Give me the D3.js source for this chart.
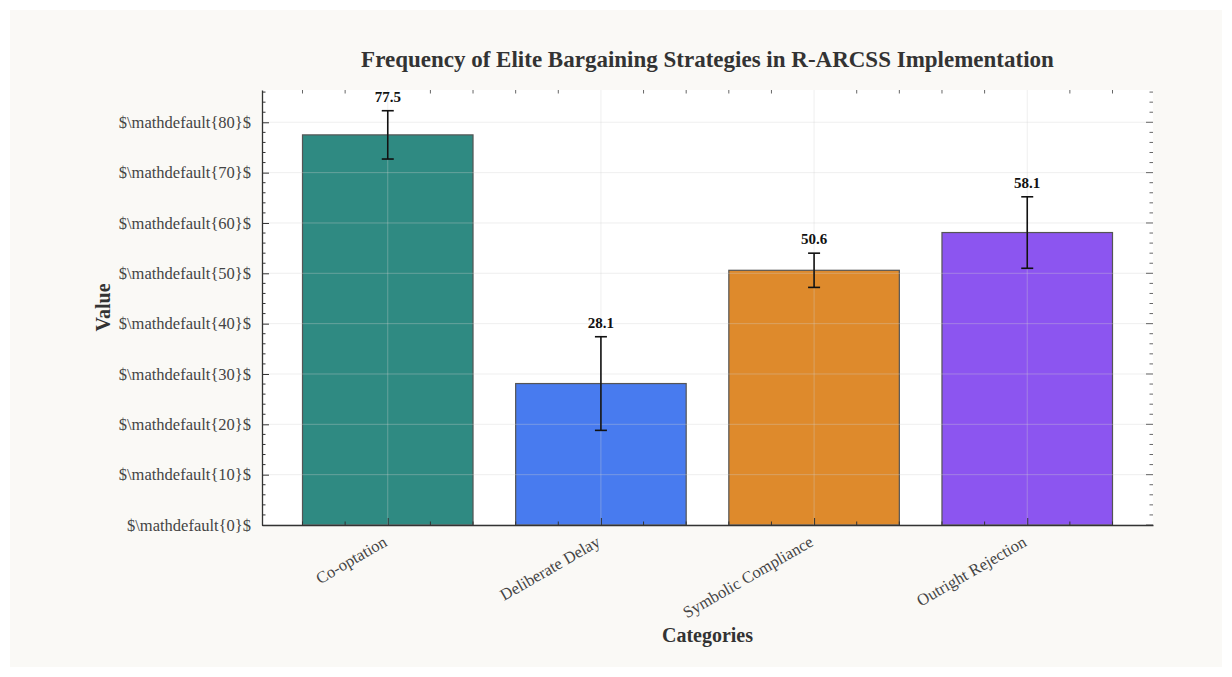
<!DOCTYPE html>
<html>
<head>
<meta charset="utf-8">
<script src="https://cdn.jsdelivr.net/npm/d3@7"></script>
<style>
  body { margin: 0; background: #ffffff; }
  svg { display: block; font-family: "Liberation Serif", "DejaVu Serif", serif; }
</style>
</head>
<body>
<div id="chart"></div>
<script>
// Data
const categories = ["Co-optation", "Deliberate Delay", "Symbolic Compliance", "Outright Rejection"];
const values = [77.5, 28.1, 50.6, 58.1];
const errors = [4.8, 9.3, 3.4, 7.1];
const colors = ["#2f8a82", "#487bef", "#de8a2c", "#8c55f0"];
const yTicks = [0, 10, 20, 30, 40, 50, 60, 70, 80];

const width = 1232;
const height = 677;
const margin = { top: 90, right: 79, bottom: 152, left: 262 };
const plotW = width - margin.left - margin.right;
const plotH = height - margin.top - margin.bottom;

const svg = d3.select("#chart")
  .append("svg")
  .attr("width", width)
  .attr("height", height);

// figure background
svg.append("rect")
  .attr("x", 10).attr("y", 10)
  .attr("width", width - 20).attr("height", height - 20)
  .attr("fill", "#faf9f6");

const g = svg.append("g").attr("transform", `translate(${margin.left},${margin.top})`);

g.append("rect")
  .attr("width", plotW).attr("height", plotH)
  .attr("fill", "#ffffff");

// Scales (matplotlib style: 5% margins around bar extents)
const xScale = d3.scaleLinear().domain([-0.59, 3.59]).range([0, plotW]);
const yMax = d3.max(values.map((v, i) => v + errors[i])) * 1.05;
const yScale = d3.scaleLinear().domain([0, yMax]).range([plotH, 0]);
const barW = xScale(0.8) - xScale(0);

// Bars
g.selectAll("rect.bar")
  .data(values)
  .enter()
  .append("rect")
  .attr("class", "bar")
  .attr("x", (d, i) => xScale(i) - barW / 2)
  .attr("y", d => yScale(d))
  .attr("width", barW)
  .attr("height", d => plotH - yScale(d))
  .attr("fill", (d, i) => colors[i])
  .attr("stroke", "#555555")
  .attr("stroke-width", 1.2);

// Grid (on top, faint)
g.selectAll("line.ygrid")
  .data(yTicks)
  .enter()
  .append("line")
  .attr("x1", 0).attr("x2", plotW)
  .attr("y1", d => yScale(d)).attr("y2", d => yScale(d))
  .attr("stroke", "#d0d0d0").attr("stroke-opacity", 0.35).attr("stroke-width", 1);
g.selectAll("line.xgrid")
  .data(categories)
  .enter()
  .append("line")
  .attr("x1", (d, i) => xScale(i)).attr("x2", (d, i) => xScale(i))
  .attr("y1", 0).attr("y2", plotH)
  .attr("stroke", "#d0d0d0").attr("stroke-opacity", 0.35).attr("stroke-width", 1);

// Error bars
const err = g.selectAll("g.err")
  .data(values)
  .enter()
  .append("g")
  .attr("class", "err");
err.append("line")
  .attr("x1", (d, i) => xScale(i)).attr("x2", (d, i) => xScale(i))
  .attr("y1", (d, i) => yScale(d + errors[i])).attr("y2", (d, i) => yScale(d - errors[i]))
  .attr("stroke", "#111").attr("stroke-width", 1.6);
err.append("line")
  .attr("x1", (d, i) => xScale(i) - 6).attr("x2", (d, i) => xScale(i) + 6)
  .attr("y1", (d, i) => yScale(d + errors[i])).attr("y2", (d, i) => yScale(d + errors[i]))
  .attr("stroke", "#111").attr("stroke-width", 1.6);
err.append("line")
  .attr("x1", (d, i) => xScale(i) - 6).attr("x2", (d, i) => xScale(i) + 6)
  .attr("y1", (d, i) => yScale(d - errors[i])).attr("y2", (d, i) => yScale(d - errors[i]))
  .attr("stroke", "#111").attr("stroke-width", 1.6);

// Value labels
g.selectAll("text.val")
  .data(values)
  .enter()
  .append("text")
  .attr("x", (d, i) => xScale(i))
  .attr("y", (d, i) => yScale(d + errors[i]) - 9)
  .attr("text-anchor", "middle")
  .attr("font-size", 15)
  .attr("font-weight", "bold")
  .attr("fill", "#111")
  .text(d => d.toFixed(1));

// Y axis (left), ticks inward
const yAxis = d3.axisLeft(yScale)
  .tickValues(yTicks)
  .tickSize(-7)
  .tickSizeOuter(0)
  .tickPadding(11)
  .tickFormat(d => `$\\mathdefault{${d}}$`);
const yG = g.append("g").call(yAxis);
yG.select(".domain").attr("stroke", "#333").attr("stroke-width", 1.3);
yG.selectAll(".tick line").attr("stroke", "#333");
yG.selectAll(".tick text")
  .attr("font-size", 16.5)
  .attr("fill", "#444")
  .attr("font-family", "Liberation Serif, serif");

// minor y ticks every 2
const yMinor = d3.range(0, yMax, 2).filter(v => v % 10 !== 0);
g.selectAll("line.yminorL")
  .data(yMinor)
  .enter()
  .append("line")
  .attr("x1", 0).attr("x2", 3.5)
  .attr("y1", d => yScale(d)).attr("y2", d => yScale(d))
  .attr("stroke", "#333");

// right side ticks (inward, no spine)
g.selectAll("line.yR")
  .data(yTicks)
  .enter()
  .append("line")
  .attr("x1", plotW - 7).attr("x2", plotW)
  .attr("y1", d => yScale(d)).attr("y2", d => yScale(d))
  .attr("stroke", "#666");
g.selectAll("line.yRminor")
  .data(yMinor)
  .enter()
  .append("line")
  .attr("x1", plotW - 3.5).attr("x2", plotW)
  .attr("y1", d => yScale(d)).attr("y2", d => yScale(d))
  .attr("stroke", "#666");

// X axis (bottom)
const xAxis = d3.axisBottom(xScale)
  .tickValues(d3.range(categories.length))
  .tickSize(-7)
  .tickSizeOuter(0)
  .tickFormat(i => categories[i]);
const xG = g.append("g").attr("transform", `translate(0,${plotH})`).call(xAxis);
xG.select(".domain").attr("stroke", "#333").attr("stroke-width", 1.3);
xG.selectAll(".tick line").attr("stroke", "#333");
xG.selectAll(".tick text")
  .attr("font-size", 16.5)
  .attr("fill", "#444")
  .attr("font-family", "Liberation Serif, serif")
  .attr("text-anchor", "end")
  .attr("transform", "translate(-3,15) rotate(-30)")
  .attr("y", 0)
  .attr("dy", "0.35em");

// minor x ticks between majors (bottom and top)
const xMinorAll = d3.range(-0.4, 3.6, 0.2).filter(v => Math.abs(v - Math.round(v)) > 0.01);
g.selectAll("line.xminorB")
  .data(xMinorAll)
  .enter()
  .append("line")
  .attr("x1", d => xScale(d)).attr("x2", d => xScale(d))
  .attr("y1", plotH).attr("y2", plotH - 3.5)
  .attr("stroke", "#333");
g.selectAll("line.xminorT")
  .data(xMinorAll)
  .enter()
  .append("line")
  .attr("x1", d => xScale(d)).attr("x2", d => xScale(d))
  .attr("y1", 0).attr("y2", 3.5)
  .attr("stroke", "#666");

// Title and axis labels
svg.append("text")
  .attr("x", margin.left + plotW / 2)
  .attr("y", 67)
  .attr("text-anchor", "middle")
  .attr("font-size", 23)
  .attr("font-weight", "bold")
  .attr("fill", "#333")
  .text("Frequency of Elite Bargaining Strategies in R-ARCSS Implementation");

svg.append("text")
  .attr("x", margin.left + plotW / 2)
  .attr("y", 642)
  .attr("text-anchor", "middle")
  .attr("font-size", 20)
  .attr("font-weight", "bold")
  .attr("fill", "#333")
  .text("Categories");

svg.append("text")
  .attr("transform", `translate(110, ${margin.top + plotH / 2}) rotate(-90)`)
  .attr("text-anchor", "middle")
  .attr("font-size", 20)
  .attr("font-weight", "bold")
  .attr("fill", "#333")
  .text("Value");
</script>
</body>
</html>
